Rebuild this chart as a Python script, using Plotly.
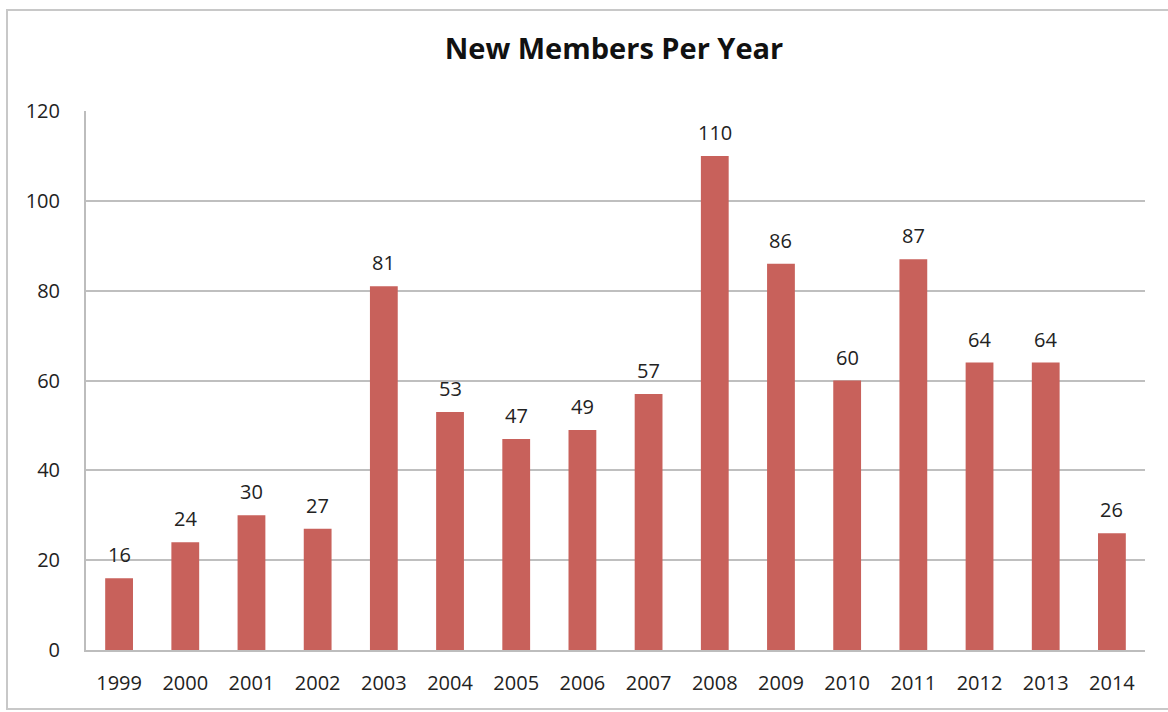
import plotly.graph_objects as go

years = ["1999", "2000", "2001", "2002", "2003", "2004", "2005", "2006",
         "2007", "2008", "2009", "2010", "2011", "2012", "2013", "2014"]
new_members = [16, 24, 30, 27, 81, 53, 47, 49, 57, 110, 86, 60, 87, 64, 64, 26]
y_ticks = [0, 20, 40, 60, 80, 100, 120]

FONT = "Open Sans"
L, R, T, B = 86, 23, 111, 62
W, H = 1168, 712
pw, ph = W - L - R, H - T - B

fig = go.Figure(go.Bar(
    x=years, y=new_members,
    marker=dict(color="#C8615B", line=dict(width=0)),
))

# value labels placed by category index on the category axis
for i, v in enumerate(new_members):
    fig.add_annotation(x=i, y=v, text=str(v), showarrow=False,
                       yanchor="bottom", yshift=8,
                       font=dict(family=FONT, size=20, color="#222222"))

fig.update_layout(
    width=W, height=H,
    margin=dict(l=L, r=R, t=T, b=B),
    paper_bgcolor="white", plot_bgcolor="white",
    bargap=0.58,
    showlegend=False,
    title=dict(text="<b>New Members Per Year</b>", x=614 / W, xanchor="center",
               y=1 - 49 / H, yanchor="middle",
               font=dict(family=FONT, size=29, color="#111111")),
    xaxis=dict(type="category", range=[-0.5, len(years) - 0.5],
               showgrid=False, showline=True, linecolor="#BDBDBD",
               linewidth=2, ticks="", ticklabelstandoff=14,
               tickfont=dict(family=FONT, size=20, color="#222222")),
    yaxis=dict(range=[0, 120], tickvals=y_ticks, showgrid=True, gridcolor="#BFBFBF",
               gridwidth=2, showline=True, linecolor="#BDBDBD", linewidth=2,
               zeroline=False, ticks="", ticklabelstandoff=20,
               tickfont=dict(family=FONT, size=20, color="#222222")),
    shapes=[dict(type="rect", xref="paper", yref="paper",
                 x0=(7 - L) / pw, x1=(1180 - L) / pw,
                 y0=(H - B - 709) / ph, y1=(H - B - 10) / ph,
                 line=dict(color="#C8C8C8", width=2), layer="below")],
)

fig.write_html("out.html")
